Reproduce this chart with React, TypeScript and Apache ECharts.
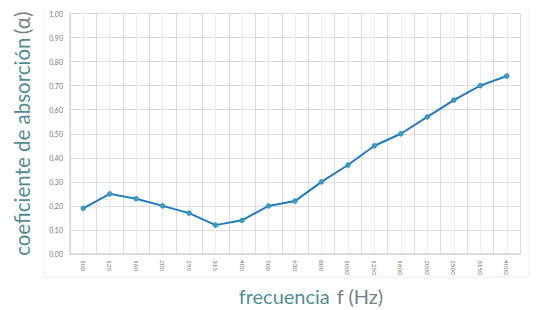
import React, { useEffect, useRef } from "react";
import * as echarts from "echarts";

const categories = ["100", "125", "160", "200", "250", "315", "400", "500", "630", "800", "1000", "1250", "1600", "2000", "2500", "3150", "4000"];
const alphaValues = [0.19, 0.25, 0.23, 0.2, 0.17, 0.12, 0.14, 0.2, 0.22, 0.3, 0.37, 0.45, 0.5, 0.57, 0.64, 0.7, 0.74];
const yTitleMain = "coeficiente de absorción";
const yTitleUnit = "(α)";
const xTitleMain = "frecuencia";
const xTitleUnit = "f (Hz)";

export default function App() {
  const ref = useRef<HTMLDivElement>(null);
  useEffect(() => {
    if (!ref.current) return;
    const chart = echarts.init(ref.current, null, { renderer: "svg" });
    const n = categories.length;
    chart.setOption({
      animation: false,
      backgroundColor: "#ffffff",
      graphic: [
        {
          type: "rect",
          shape: { x: 44, y: 5, width: 485, height: 272 },
          style: { fill: "none", stroke: "#ececec", lineWidth: 1 },
          silent: true,
          z: -1,
        },
      ],
      grid: { left: 70, right: 18, top: 13.5, bottom: 56, containLabel: false, outerBoundsMode: "none" },
      xAxis: [
        {
          type: "category",
          data: categories,
          boundaryGap: true,
          name: "{a|" + xTitleMain + "}  {b|" + xTitleUnit + "}",
          nameLocation: "middle",
          nameGap: 32,
          nameMoveOverlap: false,
          nameTextStyle: {
            padding: [0, 0, 0, 32],
            rich: {
              a: { fontFamily: "Lato", fontSize: 20, color: "#4f8f92" },
              b: { fontFamily: "Lato", fontSize: 20, color: "#7b8186" },
            },
          },
          axisLine: { show: true, lineStyle: { color: "#d6d6d6", width: 1.5 } },
          axisTick: { show: false },
          splitLine: { show: false },
          axisLabel: {
            rotate: -90,
            fontSize: 6.5,
            fontFamily: "Lato",
            color: "#7a7a7a",
            margin: 6,
          },
        },
        {
          type: "value",
          min: 0,
          max: n * 2,
          interval: 1,
          show: true,
          position: "top",
          axisLine: { show: false },
          axisTick: { show: false },
          axisLabel: { show: false },
          splitLine: { show: true, lineStyle: { color: ["#dcdcdc", "#ececec"], width: 1 } },
        },
      ],
      yAxis: {
        type: "value",
        min: 0,
        max: 1,
        interval: 0.1,
        name: "{a|" + yTitleMain + "} {b|" + yTitleUnit + "}",
        nameLocation: "middle",
        nameGap: 38,
        nameMoveOverlap: false,
        nameRotate: 90,
        nameTextStyle: {
          rich: {
            a: { fontFamily: "Lato", fontSize: 20.5, color: "#4f8f92" },
            b: { fontFamily: "Lato", fontSize: 20.5, color: "#7b8186" },
          },
        },
        axisLine: { show: true, lineStyle: { color: "#d6d6d6", width: 1.5 } },
        axisTick: { show: false },
        axisLabel: {
          fontSize: 7,
          fontFamily: "Lato",
          color: "#7a7a7a",
          margin: 7,
          formatter: (v: number) => v.toFixed(2).replace(".", ","),
        },
        splitLine: { show: true, lineStyle: { color: "#dedede", width: 1 } },
      },
      series: [
        {
          type: "line",
          xAxisIndex: 0,
          data: alphaValues,
          symbol: "circle",
          symbolSize: 5,
          lineStyle: { color: "#1f7cc4", width: 2 },
          itemStyle: { color: "#3d9cb8", borderColor: "#2a88bf", borderWidth: 0.5 },
          z: 5,
        },
      ],
    });
    return () => chart.dispose();
  }, []);
  return <div ref={ref} style={{ width: 538, height: 310, marginLeft: -8, marginTop: -8 }} />;
}
